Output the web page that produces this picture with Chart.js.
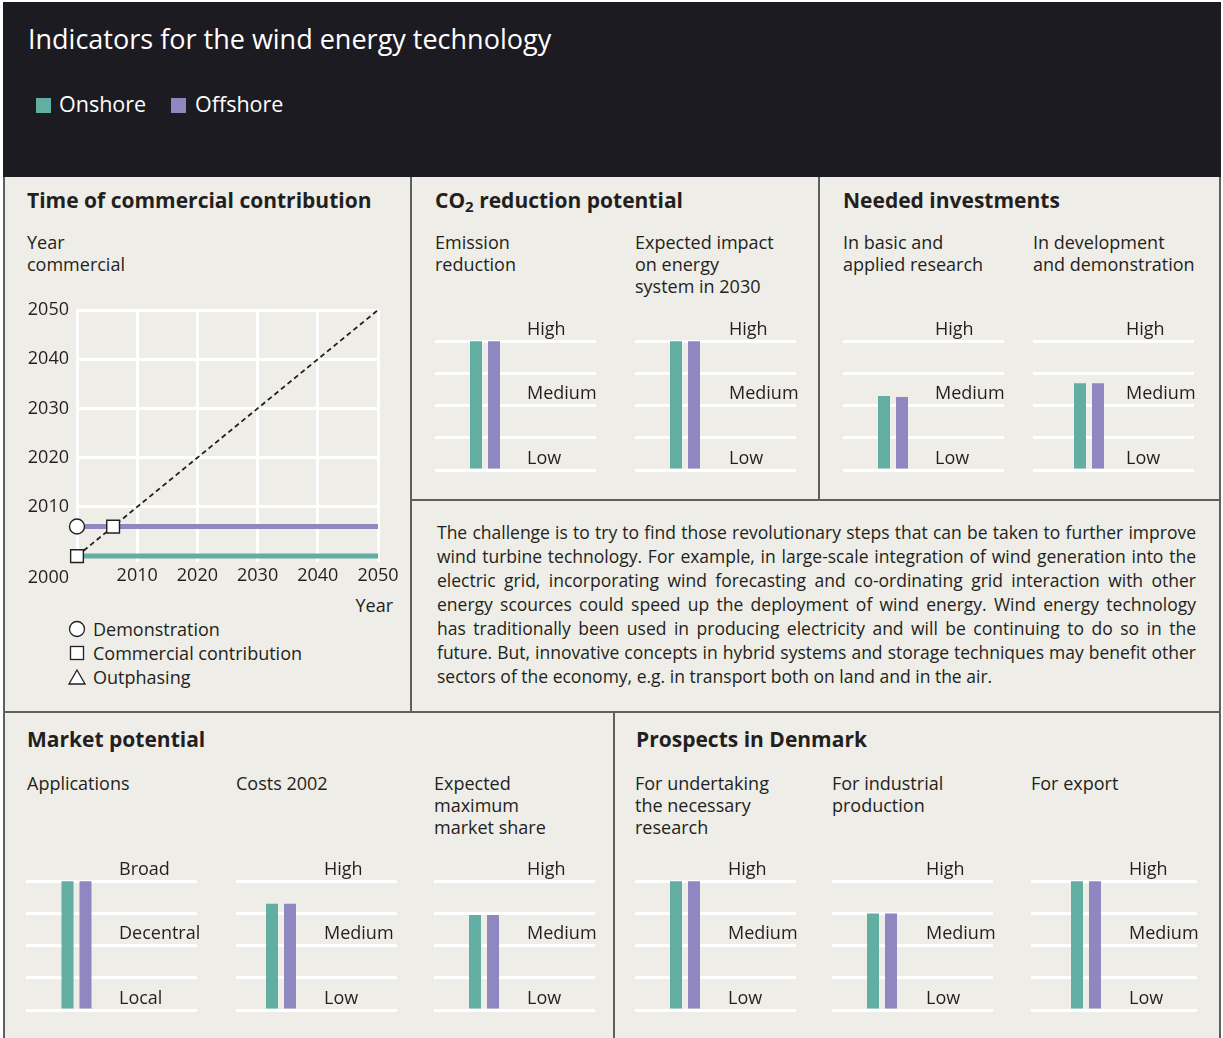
<!DOCTYPE html>
<html>
<head>
<meta charset="utf-8">
<title>Indicators for the wind energy technology</title>
<script src="https://cdn.jsdelivr.net/npm/chart.js@4.4.1/dist/chart.umd.min.js"></script>
<style>
  body { margin: 0; background: #fff; font-family: "Open Sans", sans-serif; color: #231f20; }
  #page { position: relative; width: 1223px; height: 1038px; overflow: hidden; }
  .header { position: absolute; left: 3px; top: 2px; width: 1218px; height: 175px; background: #1c1b21; }
  .board { position: absolute; left: 3px; top: 177px; width: 1218px; height: 861px; background: #eeede7; }
  .rule { position: absolute; background: #5f5f5f; }
  .t { position: absolute; white-space: nowrap; font-size: 18px; line-height: 22px; }
  .h { position: absolute; white-space: nowrap; font-size: 21px; font-weight: 700; line-height: 24px; }
  .h sub { font-size: 15px; line-height: 0; vertical-align: -4px; }
  .key { position: absolute; width: 15px; height: 15px; }
  .para { position: absolute; left: 437px; top: 520px; width: 759px; font-size: 17.5px; line-height: 24px; }
  .para div { white-space: nowrap; text-align: justify; text-align-last: justify; }
  .para div.last { text-align-last: left; }
  .mark { position: absolute; left: 68px; width: 18px; height: 18px; }
  canvas { position: absolute; }
</style>
</head>
<body>
<div id="page">
  <div class="header"></div>
  <div class="board"></div>

  <div class="rule" style="left:3px;top:177px;width:2px;height:861px"></div>
  <div class="rule" style="left:1219px;top:177px;width:2px;height:861px"></div>
  <div class="rule" style="left:410px;top:177px;width:2px;height:535px"></div>
  <div class="rule" style="left:818px;top:177px;width:2px;height:323px"></div>
  <div class="rule" style="left:613px;top:712px;width:2px;height:326px"></div>
  <div class="rule" style="left:410px;top:499px;width:811px;height:2px"></div>
  <div class="rule" style="left:3px;top:711px;width:1218px;height:2px"></div>

  <div class="t" style="left:28px;top:21px;font-size:27px;line-height:36px;color:#fff">Indicators for the wind energy technology</div>
  <div class="key" style="left:36px;top:98px;background:#62aea3"></div>
  <div class="t" style="left:59px;top:91px;font-size:21.5px;line-height:26px;color:#fff">Onshore</div>
  <div class="key" style="left:171px;top:98px;background:#8f87c0"></div>
  <div class="t" style="left:195px;top:91px;font-size:21.5px;line-height:26px;color:#fff">Offshore</div>

  <div class="h" style="left:27px;top:188px">Time of commercial contribution</div>
  <div class="t" style="left:27px;top:231px">Year<br>commercial</div>
  <div class="t" style="right:830px;top:594px">Year</div>
  <svg class="mark" style="top:620px" viewBox="0 0 18 18"><circle cx="9" cy="9" r="7.5" fill="#fff" stroke="#231f20" stroke-width="1.3"/></svg>
  <div class="t" style="left:93px;top:617px;line-height:24px">Demonstration</div>
  <svg class="mark" style="top:644px" viewBox="0 0 18 18"><rect x="2.5" y="2.5" width="13" height="13" fill="#fff" stroke="#231f20" stroke-width="1.3"/></svg>
  <div class="t" style="left:93px;top:641px;line-height:24px">Commercial contribution</div>
  <svg class="mark" style="top:668px" viewBox="0 0 18 18"><path d="M9 2 L17 16 L1 16 Z" fill="#fff" stroke="#231f20" stroke-width="1.3"/></svg>
  <div class="t" style="left:93px;top:665px;line-height:24px">Outphasing</div>

  <div class="h" style="left:435px;top:188px">CO<sub>2</sub> reduction potential</div>
  <div class="t" style="left:435px;top:231px">Emission<br>reduction</div>
  <div class="t" style="left:635px;top:231px">Expected impact<br>on energy<br>system in 2030</div>

  <div class="h" style="left:843px;top:188px">Needed investments</div>
  <div class="t" style="left:843px;top:231px">In basic and<br>applied research</div>
  <div class="t" style="left:1033px;top:231px">In development<br>and demonstration</div>

  <div class="para">
    <div>The challenge is to try to find those revolutionary steps that can be taken to further improve</div>
    <div>wind turbine technology. For example, in large-scale integration of wind generation into the</div>
    <div>electric grid, incorporating wind forecasting and co-ordinating grid interaction with other</div>
    <div>energy scources could speed up the deployment of wind energy. Wind energy technology</div>
    <div>has traditionally been used in producing electricity and will be continuing to do so in the</div>
    <div>future. But, innovative concepts in hybrid systems and storage techniques may benefit other</div>
    <div class="last">sectors of the economy, e.g. in transport both on land and in the air.</div>
  </div>

  <div class="h" style="left:27px;top:727px">Market potential</div>
  <div class="t" style="left:27px;top:772px">Applications</div>
  <div class="t" style="left:236px;top:772px">Costs 2002</div>
  <div class="t" style="left:434px;top:772px">Expected<br>maximum<br>market share</div>

  <div class="h" style="left:636px;top:727px">Prospects in Denmark</div>
  <div class="t" style="left:635px;top:772px">For undertaking<br>the necessary<br>research</div>
  <div class="t" style="left:832px;top:772px">For industrial<br>production</div>
  <div class="t" style="left:1031px;top:772px">For export</div>

  <canvas id="timeChart" width="400" height="300" style="left:10px;top:295px"></canvas>
</div>

<script>
const GREEN = "#62aea3";
const PURPLE = "#8f87c0";
const INK = "#231f20";

// time of commercial contribution
const yearTicks = [2000, 2010, 2020, 2030, 2040, 2050];
const onshoreYears = [2000, 2050];
const onshoreCommercial = [2000, 2000];
const onshoreStages = ["commercial", null];
const offshoreYears = [2000, 2006, 2050];
const offshoreCommercial = [2006, 2006, 2006];
const offshoreStages = ["demonstration", "commercial", null];
const sameYear = [2000, 2050];

// level indicators (0 = bottom line, 4 = top line)
const levelNames = ["Low", "Medium", "High"];
const reachNames = ["Local", "Decentral", "Broad"];
const indicators = [
  "Emission reduction",
  "Expected impact on energy system in 2030",
  "In basic and applied research",
  "In development and demonstration",
  "Applications",
  "Costs 2002",
  "Expected maximum market share",
  "For undertaking the necessary research",
  "For industrial production",
  "For export",
];
const indicatorScales = [levelNames, levelNames, levelNames, levelNames, reachNames,
  levelNames, levelNames, levelNames, levelNames, levelNames];
const onshoreLevel = [4, 4, 2.3, 2.7, 4, 3.3, 2.95, 4, 3, 4];
const offshoreLevel = [4, 4, 2.27, 2.7, 4, 3.3, 2.95, 4, 3, 4];

const markerStyle = { demonstration: "circle", commercial: "rect", outphasing: "triangle" };
const markerSize = { demonstration: 7.5, commercial: 9, outphasing: 8 };

Chart.defaults.font.family = "'Open Sans', sans-serif";
Chart.defaults.color = INK;

function points(xs, ys) {
  return xs.map((x, i) => ({ x: x, y: ys[i] }));
}

const ctx0 = document.getElementById("timeChart");
const timeChart = new Chart(ctx0, {
  type: "line",
  data: {
    datasets: [
      {
        label: "Onshore",
        data: points(onshoreYears, onshoreCommercial),
        stages: onshoreStages,
        borderColor: GREEN,
        borderWidth: 5,
      },
      {
        label: "Offshore",
        data: points(offshoreYears, offshoreCommercial),
        stages: offshoreStages,
        borderColor: PURPLE,
        borderWidth: 5,
      },
      {
        label: "",
        data: points(sameYear, sameYear),
        borderColor: INK,
        borderWidth: 1.8,
        borderDash: [5, 3.5],
        pointRadius: 0,
      },
    ],
  },
  options: {
    responsive: false,
    animation: false,
    events: [],
    layout: { padding: { left: 0, top: 15, right: 32, bottom: 3 } },
    datasets: {
      line: {
        clip: false,
        pointStyle: (c) => markerStyle[c.dataset.stages && c.dataset.stages[c.dataIndex]] || false,
        pointRadius: (c) => (c.dataset.stages ? markerSize[c.dataset.stages[c.dataIndex]] || 0 : 0),
        pointBackgroundColor: "#fff",
        pointBorderColor: INK,
        pointBorderWidth: 1.4,
      },
    },
    plugins: { legend: { display: false }, tooltip: { enabled: false } },
    scales: {
      x: {
        type: "linear",
        min: 2000,
        max: 2050,
        afterBuildTicks: (axis) => { axis.ticks = yearTicks.map((v) => ({ value: v })); },
        afterFit: (axis) => { axis.height = 30; axis.paddingLeft = 0; axis.paddingRight = 0; },
        grid: { color: "#fff", lineWidth: 3, drawTicks: false },
        border: { display: false },
        ticks: {
          autoSkip: false,
          maxRotation: 0,
          padding: 3,
          font: { size: 18 },
          callback: (v) => (v === 2000 ? "" : String(v)),
        },
      },
      y: {
        min: 1998.8,
        max: 2050,
        afterBuildTicks: (axis) => { axis.ticks = yearTicks.map((v) => ({ value: v })); },
        afterFit: (axis) => { axis.width = 67; axis.paddingTop = 0; axis.paddingBottom = 0; },
        grid: { color: "#fff", lineWidth: 3, drawTicks: false },
        border: { display: false },
        ticks: {
          autoSkip: false,
          padding: 8,
          font: { size: 18 },
          // the origin year sits down on the row of the year axis
          callback: (v) => (v === 2000 ? ["", "", "2000"] : String(v)),
        },
      },
    },
  },
});

// where each small level chart sits: line start/top/line length, bar centre and label start
const boxes = [
  { left: 435, top: 310, width: 161, mid: 50, text: 92 },
  { left: 635, top: 310, width: 161, mid: 50, text: 94 },
  { left: 843, top: 310, width: 161, mid: 50, text: 92 },
  { left: 1033, top: 310, width: 161, mid: 56, text: 93 },
  { left: 26, top: 850, width: 171, mid: 50.5, text: 93 },
  { left: 236, top: 850, width: 161, mid: 45, text: 88 },
  { left: 434, top: 850, width: 161, mid: 50, text: 93 },
  { left: 635, top: 850, width: 161, mid: 50, text: 93 },
  { left: 832, top: 850, width: 161, mid: 50, text: 94 },
  { left: 1031, top: 850, width: 166, mid: 55, text: 98 },
];
const gridLevels = [0, 1, 2, 3, 4];
const namePositions = [0.36, 2.36, 4.36];
const spare = 16; // room for labels running past the line ends

function levelChart(i) {
  const box = boxes[i];
  const names = indicatorScales[i];
  const area = box.mid * 2;
  const canvas = document.createElement("canvas");
  canvas.width = box.width + spare;
  canvas.height = 171;
  canvas.style.left = box.left + "px";
  canvas.style.top = box.top + "px";
  document.getElementById("page").appendChild(canvas);

  return new Chart(canvas, {
    type: "bar",
    data: {
      labels: [indicators[i]],
      datasets: [
        { label: "Onshore", data: [onshoreLevel[i]], backgroundColor: GREEN },
        { label: "Offshore", data: [offshoreLevel[i]], backgroundColor: PURPLE },
      ],
    },
    options: {
      responsive: false,
      animation: false,
      events: [],
      layout: { padding: { left: 0, right: spare, top: 12, bottom: 11 } },
      datasets: {
        bar: { barThickness: 18, maxBarThickness: 12, inflateAmount: 0, yAxisID: "y" },
      },
      plugins: { legend: { display: false }, tooltip: { enabled: false } },
      scales: {
        x: { type: "category", display: false },
        y: {
          position: "right",
          min: 0,
          max: 4.6,
          afterBuildTicks: (axis) => { axis.ticks = gridLevels.map((v) => ({ value: v })); },
          afterFit: (axis) => { axis.width = box.width - area; },
          grid: { color: "#fff", lineWidth: 3, drawTicks: true, tickLength: box.width - area },
          border: { display: false },
          ticks: { display: false },
        },
        names: {
          axis: "y",
          position: "left",
          min: 0,
          max: 4.6,
          afterBuildTicks: (axis) => { axis.ticks = namePositions.map((v) => ({ value: v })); },
          afterFit: (axis) => { axis.width = 0; axis.paddingTop = 0; axis.paddingBottom = 0; },
          grid: { display: false, drawTicks: false },
          border: { display: false },
          ticks: {
            autoSkip: false,
            mirror: true,
            crossAlign: "near",
            padding: box.text,
            font: { size: 18 },
            color: INK,
            callback: (v, idx) => names[idx],
          },
        },
      },
    },
  });
}

const levelCharts = indicators.map((name, i) => levelChart(i));
</script>
</body>
</html>
